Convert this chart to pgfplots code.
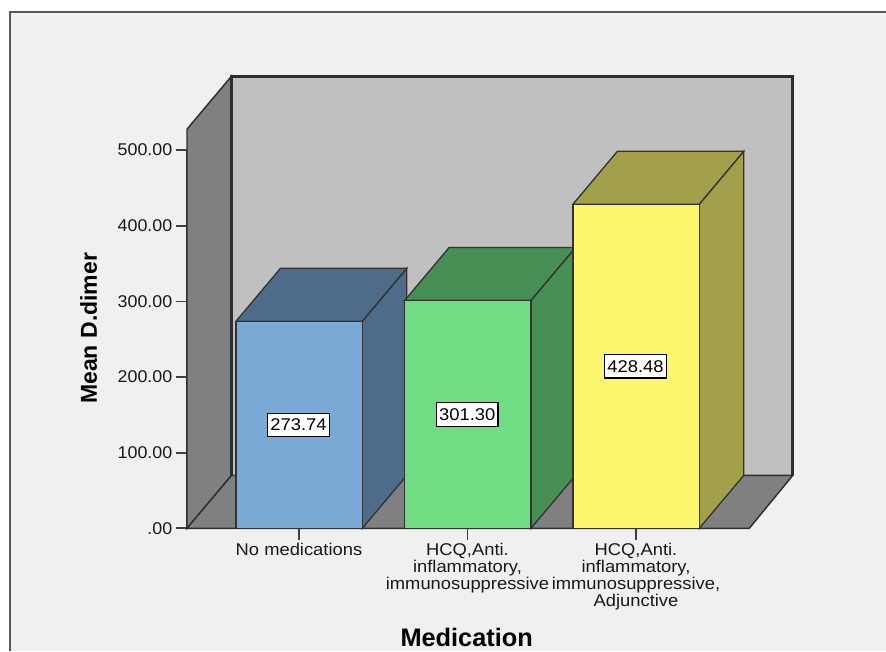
\documentclass[border=0pt]{standalone}
\usepackage{fontspec}
\setmainfont{Liberation Sans}
\newfontfamily\stretchedsans[FakeStretch=1.08]{Liberation Sans}
\newfontfamily\ticksans[FakeStretch=1.05]{Liberation Sans}
\usepackage{pgfplots}
\pgfplotsset{compat=1.18}
\definecolor{panelbg}{HTML}{F0F0F0}
\definecolor{wallback}{HTML}{C0C0C0}
\definecolor{wallside}{HTML}{808080}
\definecolor{edgedark}{HTML}{2E2E2E}
\definecolor{blueF}{HTML}{7BA9D6}
\definecolor{blueS}{HTML}{4E6C8A}
\definecolor{greenF}{HTML}{70DC84}
\definecolor{greenS}{HTML}{488F55}
\definecolor{yellowF}{HTML}{FCF76F}
\definecolor{yellowS}{HTML}{A2A04B}
\newcommand{\lblfont}{\stretchedsans\fontsize{12.75}{12.7}\selectfont}
\newcommand{\tickfont}{\ticksans\fontsize{12.75}{12.7}\selectfont}
\begin{document}
\begin{tikzpicture}
\useasboundingbox (0,0) rectangle (664.5pt,488.25pt);
% panel with its frame on the top and left edges
\fill[white] (0,0) rectangle (664.5pt,488.25pt);
\fill[panelbg] (7.5pt,0) rectangle (664.5pt,479.25pt);
\draw[line width=1.3pt,color=black!65] (7.5pt,0) -- (7.5pt,479.25pt) -- (664.5pt,479.25pt);
\begin{axis}[
  at={(140.25pt,92pt)}, anchor=south west,
  scale only axis, width=421.7pt, height=283.7pt,
  xmin=187, xmax=749.3, ymin=0, ymax=500,
  clip=false,
  axis x line*=bottom, axis y line*=left,
  axis line style={-, line width=1.1pt, color=edgedark},
  tick style={line width=1.3pt, color=black!75},
  tick align=outside,
  major tick length=8.5pt,
  xtick={299,467.5,636},
  xticklabels={No medications,
    {HCQ,Anti.\\inflammatory,\\immunosuppressive},
    {HCQ,Anti.\\inflammatory,\\immunosuppressive,\\Adjunctive}},
  xticklabel style={align=center, font=\lblfont, anchor=north, yshift=1pt, color=black!90},
  ytick={0,100,200,300,400,500},
  yticklabels={.00,100.00,200.00,300.00,400.00,500.00},
  yticklabel style={font=\tickfont, color=black!90, xshift=1pt},
]
% left wall, back wall, floor
\addplot[fill=wallside, draw=edgedark, line width=1.1pt] coordinates {(187,0) (187,527.6) (231.5,597.6) (231.5,70)} -- cycle;
\addplot[fill=wallback, draw=none] coordinates {(231.5,70) (231.5,597.6) (792.8,597.6) (792.8,70)} -- cycle;
\addplot[draw=edgedark, line width=2pt] coordinates {(231.5,70) (231.5,597.6) (792.8,597.6) (792.8,70)};
\addplot[fill=wallside, draw=edgedark, line width=1.1pt] coordinates {(187,0) (231.5,70) (792.8,70) (749.3,0)} -- cycle;
% bar 1: No medications
\addplot[fill=blueS, draw=black!80, line width=1pt] coordinates {(362.3,0) (362.3,273.74) (406.8,343.74) (406.8,70)} -- cycle;
\addplot[fill=blueS, draw=black!80, line width=1pt] coordinates {(236,273.74) (280.5,343.74) (406.8,343.74) (362.3,273.74)} -- cycle;
\addplot[fill=blueF, draw=black!80, line width=1pt] coordinates {(236,0) (236,273.74) (362.3,273.74) (362.3,0)} -- cycle;
% bar 2: HCQ, anti-inflammatory, immunosuppressive
\addplot[fill=greenS, draw=black!80, line width=1pt] coordinates {(531,0) (531,301.30) (575.5,371.30) (575.5,70)} -- cycle;
\addplot[fill=greenS, draw=black!80, line width=1pt] coordinates {(404.7,301.30) (449.2,371.30) (575.5,371.30) (531,301.30)} -- cycle;
\addplot[fill=greenF, draw=black!80, line width=1pt] coordinates {(404.7,0) (404.7,301.30) (531,301.30) (531,0)} -- cycle;
% bar 3: HCQ, anti-inflammatory, immunosuppressive, adjunctive
\addplot[fill=yellowS, draw=black!80, line width=1pt] coordinates {(699.3,0) (699.3,428.48) (743.8,498.48) (743.8,70)} -- cycle;
\addplot[fill=yellowS, draw=black!80, line width=1pt] coordinates {(573,428.48) (617.5,498.48) (743.8,498.48) (699.3,428.48)} -- cycle;
\addplot[fill=yellowF, draw=black!80, line width=1pt] coordinates {(573,0) (573,428.48) (699.3,428.48) (699.3,0)} -- cycle;
% value boxes at mid-height of each bar
\addplot[draw=none, nodes near coords, point meta=explicit symbolic,
  nodes near coords style={anchor=center, draw=black, line width=0.8pt, fill=white, font=\lblfont,
    inner xsep=2pt, inner ysep=4.3pt}]
  table[x=x, y=y, meta=v] {
  x     y       v
  298.5 136.87  273.74
  467.3 150.65  301.30
  635.5 214.24  428.48
};
\end{axis}
% axis titles
\node[rotate=90, font=\fontsize{17.25}{20}\selectfont\bfseries] at (66.5pt,242pt) {Mean D.dimer};
\node[font=\fontsize{19}{20}\selectfont\bfseries] at (350pt,10.5pt) {Medication};
\end{tikzpicture}
\end{document}
